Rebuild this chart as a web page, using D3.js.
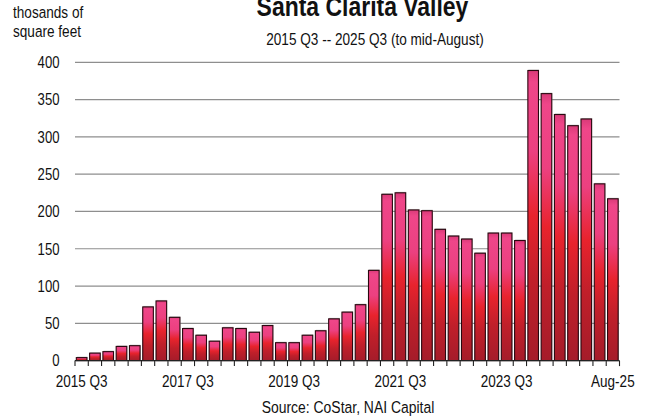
<!DOCTYPE html>
<html>
<head>
<meta charset="utf-8">
<script src="https://cdn.jsdelivr.net/npm/d3@7"></script>
<style>
  html, body { margin: 0; padding: 0; background: #fff; }
  svg { display: block; }
  text { font-family: "Liberation Sans", Arial, sans-serif; fill: #111; }
</style>
</head>
<body>
<script>
// ---- data ----
const quarters = [
  "2015 Q3","2015 Q4","2016 Q1","2016 Q2","2016 Q3","2016 Q4","2017 Q1","2017 Q2",
  "2017 Q3","2017 Q4","2018 Q1","2018 Q2","2018 Q3","2018 Q4","2019 Q1","2019 Q2",
  "2019 Q3","2019 Q4","2020 Q1","2020 Q2","2020 Q3","2020 Q4","2021 Q1","2021 Q2",
  "2021 Q3","2021 Q4","2022 Q1","2022 Q2","2022 Q3","2022 Q4","2023 Q1","2023 Q2",
  "2023 Q3","2023 Q4","2024 Q1","2024 Q2","2024 Q3","2024 Q4","2025 Q1","2025 Q2",
  "Aug-25"
];
const values = [
  4, 10, 12, 19, 20, 72, 80, 58, 43, 34, 26, 44, 43, 38, 47, 24,
  24, 34, 40, 56, 65, 75, 121, 223, 225, 202, 201, 176, 167, 163, 144, 171,
  171, 161, 389, 358, 330, 315, 324, 237, 217
];
const shownLabels = ["2015 Q3", "2017 Q3", "2019 Q3", "2021 Q3", "2023 Q3", "Aug-25"];
const yTicks = [0, 50, 100, 150, 200, 250, 300, 350, 400];
const titleText = "Santa Clarita Valley";
const subtitleText = "2015 Q3 -- 2025 Q3 (to mid-August)";
const yTitleLines = ["thosands of", "square feet"];
const sourceText = "Source: CoStar, NAI Capital";

// ---- layout ----
const W = 647, H = 420;
const mLeft = 75, mRight = 619.5, mTop = 62.3, mBottom = 360.6;
const NARROW = 0.82;

const svg = d3.select("body").append("svg").attr("width", W).attr("height", H);

const x = d3.scaleBand().domain(quarters).range([mLeft, mRight]).paddingInner(0.2).paddingOuter(0.1);
const y = d3.scaleLinear().domain([0, 400]).range([mBottom, mTop]);
const step = x.step();

// narrow text helper (emulates a condensed face)
function narrow(sel, fx, fy) {
  return sel.attr("x", 0).attr("y", 0)
    .attr("transform", (d, i) => `translate(${fx(d, i)},${fy(d, i)}) scale(${NARROW},1)`);
}

// gradient
const defs = svg.append("defs");
const grad = defs.append("linearGradient").attr("id", "barGrad")
  .attr("x1", 0).attr("y1", 0).attr("x2", 0).attr("y2", 1);
[
  [0, "#d93a78"], [0.04, "#ef4689"], [0.28, "#ec4080"], [0.5, "#e8232d"],
  [0.72, "#c01f2a"], [1, "#a51c2a"]
].forEach(([o, c]) => grad.append("stop").attr("offset", o).attr("stop-color", c));

// gridlines
svg.append("g").selectAll("line").data(yTicks.filter(d => d > 0)).join("line")
  .attr("x1", mLeft).attr("x2", mRight)
  .attr("y1", d => y(d)).attr("y2", d => y(d))
  .attr("stroke", "#8e8e8e").attr("stroke-width", 1.2);

// y labels
narrow(svg.append("g").selectAll("text").data(yTicks).join("text"),
       () => 59.5, d => y(d))
  .attr("dy", "0.36em")
  .attr("text-anchor", "end").attr("font-size", 16)
  .text(d => d);

// bar shadows
svg.append("g").selectAll("rect").data(values).join("rect")
  .attr("x", (d, i) => x(quarters[i]) + 0.5)
  .attr("y", d => y(d) - 1)
  .attr("width", x.bandwidth())
  .attr("height", d => mBottom - y(d) + 1)
  .attr("fill", "#c4c4c4");

// bars
svg.append("g").selectAll("rect").data(values).join("rect")
  .attr("x", (d, i) => x(quarters[i]))
  .attr("y", d => y(d))
  .attr("width", x.bandwidth())
  .attr("height", d => mBottom - y(d))
  .attr("fill", "url(#barGrad)")
  .attr("stroke", "#2a070f").attr("stroke-width", 1.1);

// x axis line and ticks at band boundaries
svg.append("line").attr("x1", mLeft).attr("x2", mRight)
  .attr("y1", mBottom).attr("y2", mBottom)
  .attr("stroke", "#222").attr("stroke-width", 1.2);
const bounds = d3.range(quarters.length + 1).map(i => mLeft + i * step);
svg.append("g").selectAll("line").data(bounds).join("line")
  .attr("x1", d => d).attr("x2", d => d)
  .attr("y1", mBottom).attr("y2", mBottom + 5.5)
  .attr("stroke", "#222").attr("stroke-width", 1.1);

// x labels
narrow(svg.append("g").selectAll("text").data(shownLabels).join("text"),
       d => x(d) + x.bandwidth() / 2, () => 386.5)
  .attr("text-anchor", "middle").attr("font-size", 16.5)
  .text(d => d);

// title & subtitle
narrow(svg.append("text").datum(titleText), () => 362.5, () => 15.5)
  .attr("text-anchor", "middle")
  .attr("font-size", 28).attr("font-weight", "bold").text(d => d);
narrow(svg.append("text").datum(subtitleText), () => 375, () => 45)
  .attr("text-anchor", "middle")
  .attr("font-size", 16.6).text(d => d);

// y title
narrow(svg.append("g").selectAll("text").data(yTitleLines).join("text"),
       () => 13, (d, i) => 18.3 + i * 19)
  .attr("font-size", 16.6).text(d => d);

// source
narrow(svg.append("text").datum(sourceText), () => 348, () => 413)
  .attr("text-anchor", "middle")
  .attr("font-size", 17).text(d => d);
</script>
</body>
</html>
